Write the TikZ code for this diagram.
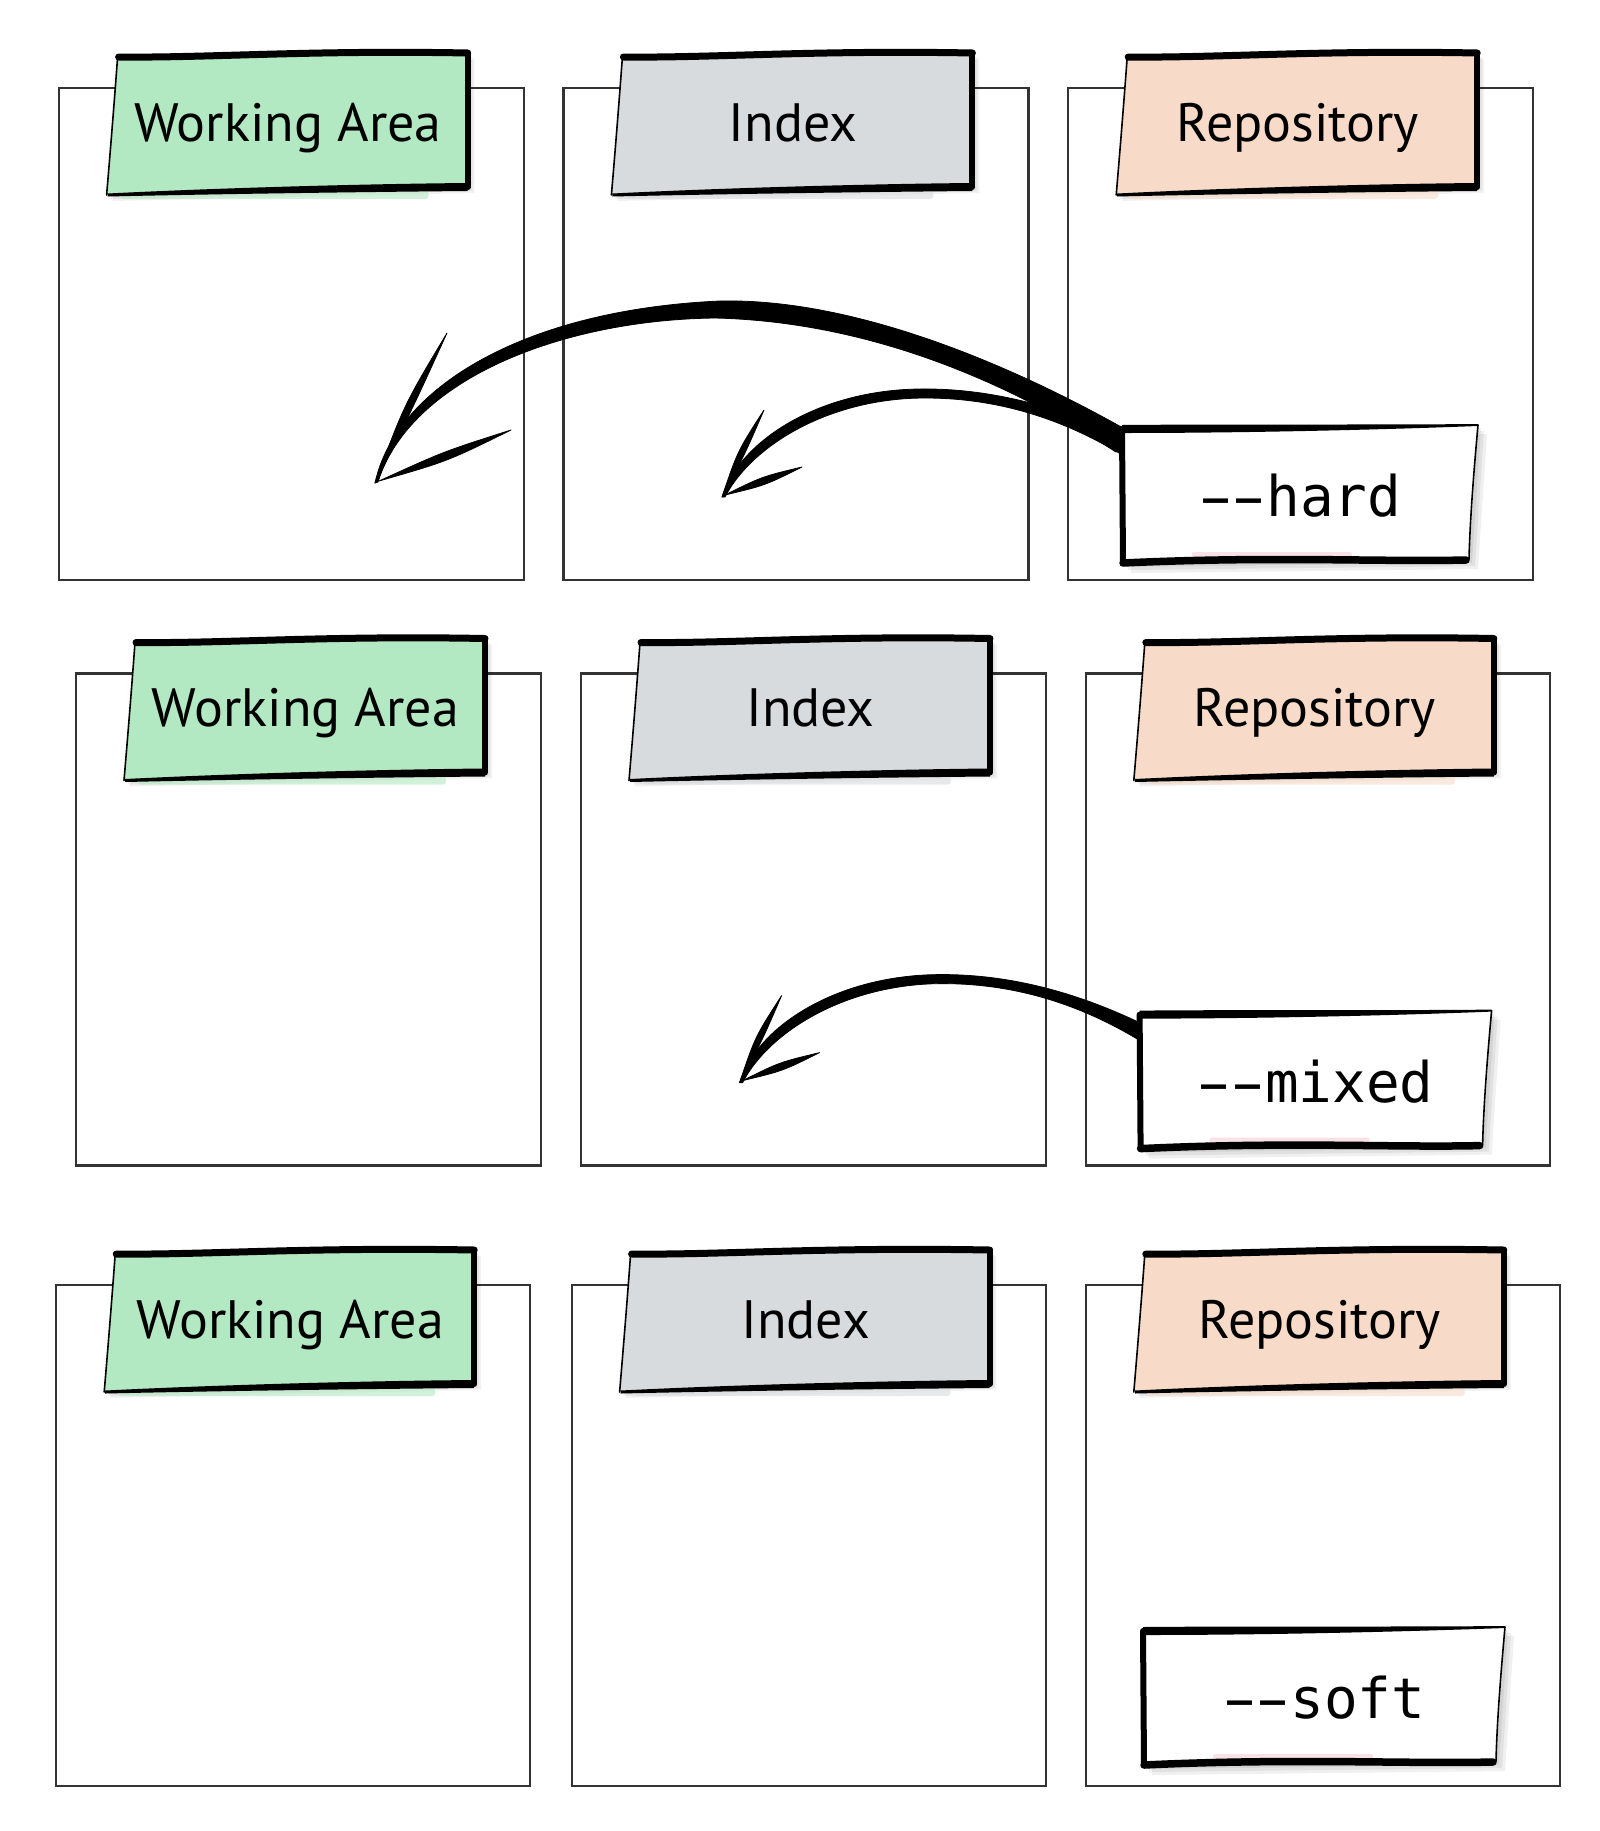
\documentclass[tikz,border=0pt]{standalone}
\usepackage{fontspec}
\usepackage{graphicx}
\newfontfamily\lblfont{PT Sans}
\newfontfamily\optfont{DejaVu Sans Mono}
\definecolor{wagreen}{RGB}{179,233,194}
\definecolor{idxgray}{RGB}{216,219,222}
\definecolor{repopeach}{RGB}{247,219,200}
\definecolor{tintpink}{RGB}{240,170,190}
\newcommand\ldash{\makebox[0.602em][c]{\scalebox{1.75}[1]{-}}}
\tikzset{
  frame/.style={draw=black!80, line width=2.2pt},
  thinedge/.style={draw=black, line width=1.6pt, line cap=round},
  thickedge/.style={draw=black, line width=7pt, line cap=round, line join=round},
  lbltext/.style={font=\lblfont\fontsize{54}{60}\selectfont, anchor=base, inner sep=0pt},
  opttext/.style={font=\optfont\fontsize{56}{60}\selectfont, anchor=base, inner sep=0pt},
  ink/.style={fill=black, draw=black, line width=0.8pt, line join=round},
}
% column: #1 x, #2 y, #3 w, #4 h, #5 colour, #6 text, #7 name
\newcommand\gcol[7]{%
  \draw[frame] (#1,#2) rectangle ({#1+#3},{#2+#4});
  \foreach \s in {2,4,6}{%
    \fill[black,opacity=0.05] ({#1+48+\s},{#2+107+\s}) -- ({#1+#3-55+\s},{#2+99+\s}) -- ({#1+#3-55+\s},{#2-35+\s}) -- ({#1+59+\s},{#2-31+\s}) -- cycle;}
  \fill[#5,opacity=0.6,rounded corners=3pt] ({#1+62},{#2+103}) rectangle ({#1+#3-95},{#2+111});
  \fill[#5] ({#1+59},{#2-31}) -- ({#1+#3-55},{#2-35}) -- ({#1+#3-55},{#2+99}) -- ({#1+48},{#2+107}) -- cycle;
  \draw[thinedge] ({#1+59},{#2-31}) .. controls ({#1+56},{#2+10}) and ({#1+52},{#2+60}) .. ({#1+48},{#2+107});
  \draw[thickedge] ({#1+60},{#2-31}) .. controls ({#1+150},{#2-30}) and ({#1+250},{#2-38}) .. ({#1+#3-56},{#2-35});
  \draw[thickedge,line width=6pt] ({#1+#3-56},{#2-35}) -- ({#1+#3-56},{#2+99});
  \fill ({#1+#3-56},{#2+95}) .. controls ({#1+300},{#2+96}) and ({#1+160},{#2+100}) .. ({#1+49},{#2+105.5}) -- ({#1+49},{#2+108.5}) .. controls ({#1+160},{#2+106}) and ({#1+300},{#2+104}) .. ({#1+#3-56},{#2+103}) -- cycle;
  \node[lbltext] (#7) at ({#1+#3/2-3},{#2+53}) {#6};
}
% option box: #1 L, #2 T, #3 W, #4 name, #5 text
\newcommand\optbox[5]{%
  \foreach \s in {3,6,9}{%
    \fill[black,opacity=0.06] ({#1+\s},{#2+\s}) -- ({#1+#3+\s},{#2-4+\s}) -- ({#1+#3-9+\s},{#2+131+\s}) -- ({#1+\s},{#2+135+\s}) -- cycle;}
  \fill[white] (#1,#2) -- ({#1+#3},{#2-4}) -- ({#1+#3-9},{#2+130}) -- ({#1},{#2+134}) -- cycle;
  \fill[tintpink, opacity=0.35, rounded corners=2pt] ({#1+70},{#2+123}) rectangle ({#1+230},{#2+129});
  \draw[thinedge] ({#1+#3},{#2-4}) .. controls ({#1+#3-4},{#2+40}) and ({#1+#3-8},{#2+90}) .. ({#1+#3-9},{#2+130});
  \fill (#1,{#2-4}) .. controls ({#1+120},{#2-5}) and ({#1+250},{#2-4}) .. ({#1+#3},{#2-5}) -- ({#1+#3},{#2-3}) .. controls ({#1+250},{#2+1}) and ({#1+120},{#2+4}) .. (#1,{#2+4}) -- cycle;
  \draw[thickedge,line width=6pt] (#1,#2) -- ({#1+1},{#2+134});
  \draw[thickedge,line width=7.5pt] ({#1+#3-12},{#2+131}) .. controls ({#1+#3-100},{#2+133}) and ({#1+150},{#2+127}) .. ({#1+1},{#2+134});
  \node[opttext] (#4) at ({#1+#3/2},{#2+87.5}) {#5};
}
\begin{document}
\begin{tikzpicture}[x=1pt,y=-1pt]
\useasboundingbox (0,0) rectangle (1600,1831);
\fill[white] (0,0) rectangle (1600,1831);
% row 1
\gcol{58.6}{88}{465}{492}{wagreen}{Working Area}{wa1}
\gcol{563.4}{88}{465}{492}{idxgray}{Index}{ix1}
\gcol{1068.2}{88}{465}{492}{repopeach}{Repository}{rp1}
% row 2
\gcol{76}{673.5}{465}{492}{wagreen}{Working Area}{wa2}
\gcol{581}{673.5}{465}{492}{idxgray}{Index}{ix2}
\gcol{1085.8}{673.5}{464}{492}{repopeach}{Repository}{rp2}
% row 3
\gcol{56.2}{1285}{474}{501}{wagreen}{Working Area}{wa3}
\gcol{571.6}{1285}{474}{501}{idxgray}{Index}{ix3}
\gcol{1085.8}{1285}{474}{501}{repopeach}{Repository}{rp3}

% big arrow (hard -> working area)
\coordinate (hardA) at (1123,428);
\coordinate (hardB) at (1116,452);
\coordinate (bigtip) at (375,483);
\fill[ink] (bigtip) .. controls (395,390) and (520,310) .. (720,301) .. controls (860,298) and (1020,370) .. (hardA) -- (hardB) .. controls (1020,390) and (880,322) .. (715,318) .. controls (560,320) and (410,380) .. (378,482) -- cycle;
\fill[ink] (bigtip) .. controls (404.1,404.7) .. (447,333) .. controls (412.5,408.7) .. (bigtip) -- cycle;
\fill[ink] (379,481) .. controls (443.5,451.5) .. (511,430) .. controls (447.3,461.4) .. (379,481) -- cycle;

% small arrows (hard -> index, mixed -> index)
\foreach \dx/\dy/\nm in {0/0/hard,17.6/585.6/mixed}{%
  \begin{scope}[shift={(\dx,\dy)}]
    \coordinate (\nm-tip) at (722,497);
    \coordinate (\nm-A) at (1124,438);
    \coordinate (\nm-B) at (1124,456);
    \fill[ink] (\nm-tip) .. controls (740,440) and (820,390) .. (920,389) .. controls (1000,388) and (1070,412) .. (\nm-A) -- (\nm-B) .. controls (1065,420) and (1000,398) .. (925,398) .. controls (830,398) and (752,445) .. (725,497) -- cycle;
    \fill[ink] (\nm-tip) .. controls (737.6,450.9) .. (764,410) .. controls (744.8,454.4) .. (\nm-tip) -- cycle;
    \fill[ink] (725,495) .. controls (761.9,476.6) .. (802,467) .. controls (765.1,485.4) .. (725,495) -- cycle;
  \end{scope}
}

% option boxes
\optbox{1122}{429}{356}{hard}{\ldash\ldash hard}
\optbox{1139.6}{1014.6}{352}{mixed}{\ldash\ldash mixed}
\optbox{1143}{1631}{362}{soft}{\ldash\ldash soft}
\end{tikzpicture}
\end{document}
